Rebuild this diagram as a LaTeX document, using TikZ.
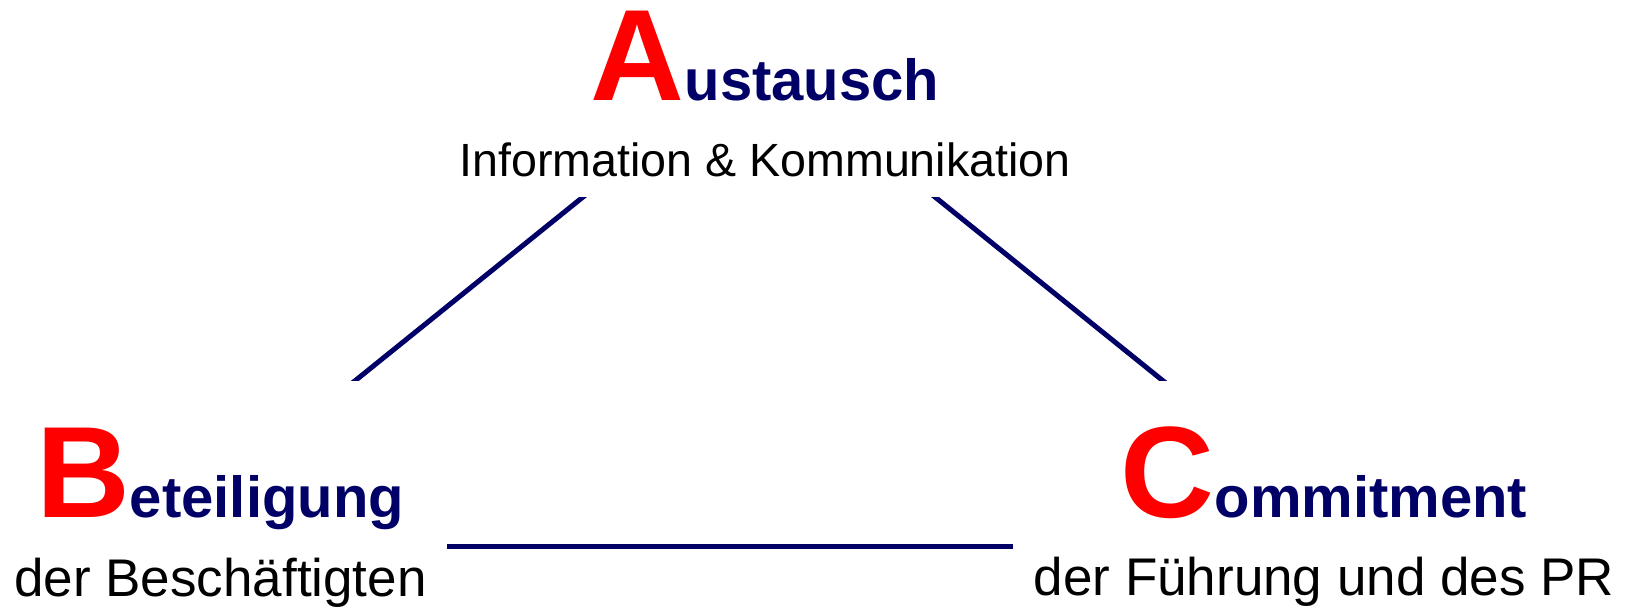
\documentclass[tikz,border=0pt]{standalone}
\usepackage{fontspec}
\setmainfont{Liberation Sans}
\definecolor{navy}{RGB}{0,0,102}
\definecolor{bigred}{RGB}{255,0,0}
\newcommand\Ini[1]{{\color{bigred}\fontsize{130}{130}\selectfont #1}}
\newcommand\Rest[1]{{\fontsize{58}{58}\selectfont #1}}
\begin{document}
\begin{tikzpicture}[x=1pt,y=-1pt,
  title/.style={inner sep=0pt, anchor=base, text=navy, font=\bfseries},
  sub/.style={inner sep=0pt, anchor=base, text=black},
  link/.style={draw=navy, line width=5pt}]
\useasboundingbox (0,0) rectangle (1629,608);
\node[title] (A) at (765,100) {\Ini{A}\Rest{ustausch}};
\node[sub, font=\fontsize{46.6}{46.6}\selectfont] (As) at (765,176) {Information \& Kommunikation};
\node[title] (B) at (220,517) {\Ini{B}\Rest{eteiligung}};
\node[sub, font=\fontsize{53}{53}\selectfont] (Bs) at (220.5,596) {der Beschäftigten};
\node[title] (C) at (1324,517) {\Ini{C}\Rest{ommitment}};
\node[sub, font=\fontsize{53}{53}\selectfont] (Cs) at (1324,595) {der Führung und des PR};
\coordinate (ab) at (356,380);
\coordinate (ba) at (583,197);
\coordinate (ac) at (935,197);
\coordinate (ca) at (1162,380);
\coordinate (bc) at (447,546.5);
\coordinate (cb) at (1013,546.5);
\begin{scope}
\clip (0,197) rectangle (1629,380);
\draw[link, shorten <=-6pt, shorten >=-6pt] (ab) -- (ba);
\draw[link, shorten <=-6pt, shorten >=-6pt] (ac) -- (ca);
\end{scope}
\draw[link] (bc) -- (cb);
\end{tikzpicture}
\end{document}
